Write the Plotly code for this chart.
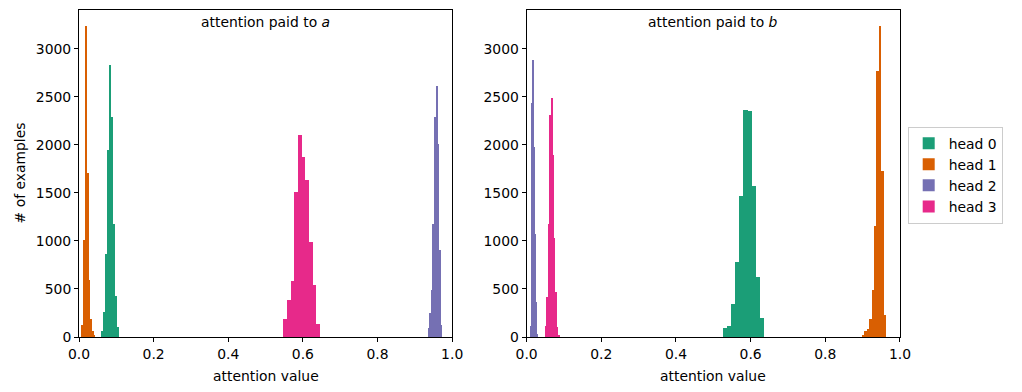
import numpy as np
import plotly.graph_objects as go
from plotly.subplots import make_subplots

heads = ["head 0", "head 1", "head 2", "head 3"]
colors = ["#1b9e77", "#d95f02", "#7570b3", "#e7298a"]

# attention paid to a: histogram bin start, bin width, counts per head
a_head0_start, a_head0_width = 0.0595, 0.00535
a_head0_counts = [59, 261, 866, 1949, 2829, 2286, 1176, 428, 104]
a_head1_start, a_head1_width = 0.0080, 0.0045
a_head1_counts = [122, 1009, 3243, 1712, 598, 184, 59, 17]
a_head2_start, a_head2_width = 0.9360, 0.00417
a_head2_counts = [97, 250, 487, 1176, 2286, 2617, 2011, 911, 122]
a_head3_start, a_head3_width = 0.5477, 0.00983
a_head3_counts = [184, 390, 585, 1507, 2108, 1879, 1635, 988, 546, 132]

# attention paid to b
b_head0_start, b_head0_width = 0.5236, 0.01116
b_head0_counts = [94, 118, 341, 786, 1469, 2363, 2352, 1569, 623, 195]
b_head1_start, b_head1_width = 0.8967, 0.0065
b_head1_counts = [24, 59, 80, 184, 487, 1155, 2767, 3243, 1730, 233]
b_head2_start, b_head2_width = 0.0088, 0.0027
b_head2_counts = [118, 2432, 2885, 1980, 1075, 362, 31]
b_head3_start, b_head3_width = 0.0498, 0.00375
b_head3_counts = [118, 414, 1173, 2311, 2492, 1893, 1034, 466, 101, 24]

panels = [
    [(a_head0_start, a_head0_width, a_head0_counts),
     (a_head1_start, a_head1_width, a_head1_counts),
     (a_head2_start, a_head2_width, a_head2_counts),
     (a_head3_start, a_head3_width, a_head3_counts)],
    [(b_head0_start, b_head0_width, b_head0_counts),
     (b_head1_start, b_head1_width, b_head1_counts),
     (b_head2_start, b_head2_width, b_head2_counts),
     (b_head3_start, b_head3_width, b_head3_counts)],
]
titles = ["attention paid to <i>a</i>", "attention paid to <i>b</i>"]
x_ticks = [0.0, 0.2, 0.4, 0.6, 0.8, 1.0]
y_ticks = [0, 500, 1000, 1500, 2000, 2500, 3000]
ymax = 3405

# page offset (body margin) compensation
OFF = 8
W, H = 1022 - OFF, 392 - OFF
L, R, T, B = 78.8 - OFF, 900.3 - OFF, 10.0 - OFF, 336.7 - OFF
left_end, right_start = 452.2 - OFF, 526.7 - OFF
pw = R - L
ph = B - T

fig = make_subplots(rows=1, cols=2)
FONT = "DejaVu Sans"
FS = 13.9

for p, series in enumerate(panels):
    for h, (start, width, counts) in enumerate(series):
        counts = np.array(counts)
        centers = start + width * (np.arange(len(counts)) + 0.5)
        fig.add_trace(go.Bar(
            x=centers, y=counts, width=width,
            marker=dict(color=colors[h], line=dict(width=0)),
            name=heads[h], legendgroup=heads[h], showlegend=(p == 0),
        ), row=1, col=p + 1)

axis_common = dict(showline=True, mirror=True, linecolor="black", linewidth=1,
                   ticks="outside", ticklen=4, tickwidth=1, tickcolor="black",
                   showgrid=False, zeroline=False,
                   tickfont=dict(family=FONT, size=FS, color="black"))
for c in (1, 2):
    fig.update_xaxes(range=[0, 1], tickvals=x_ticks, tickformat=".1f",
                     row=1, col=c, **axis_common)
    fig.update_yaxes(range=[0, ymax], tickvals=y_ticks, row=1, col=c, **axis_common)

fig.update_layout(
    xaxis=dict(domain=[0, (left_end - L) / pw]),
    xaxis2=dict(domain=[(right_start - L) / pw, 1]),
)

annotations = []
for i, t in enumerate(titles):
    xc = (L + left_end) / 2 if i == 0 else (right_start + R) / 2
    annotations.append(dict(text=t, x=(xc - L) / pw, y=(B - (22 - OFF)) / ph,
                            xref="paper", yref="paper", showarrow=False,
                            xanchor="center", yanchor="middle",
                            font=dict(family=FONT, size=FS, color="black")))
    annotations.append(dict(text="attention value", x=(xc - L) / pw, y=(B - (376 - OFF)) / ph,
                            xref="paper", yref="paper", showarrow=False,
                            xanchor="center", yanchor="middle",
                            font=dict(family=FONT, size=FS, color="black")))
annotations.append(dict(text="# of examples", x=(20 - OFF - L) / pw, y=(B - (173 - OFF)) / ph,
                        xref="paper", yref="paper", showarrow=False, textangle=-90,
                        xanchor="center", yanchor="middle",
                        font=dict(family=FONT, size=FS, color="black")))

fig.update_layout(
    width=W, height=H,
    margin=dict(l=L, r=W - R, t=T, b=H - B),
    paper_bgcolor="white", plot_bgcolor="white",
    barmode="overlay", bargap=0,
    annotations=annotations,
    legend=dict(x=(908 - OFF - L) / pw, y=(B - (175 - OFF)) / ph, xanchor="left", yanchor="middle",
                bgcolor="white", bordercolor="#cccccc", borderwidth=1,
                font=dict(family=FONT, size=FS, color="black"),
                tracegroupgap=0, itemwidth=30),
    font=dict(family=FONT),
)

fig.write_html("out.html")
